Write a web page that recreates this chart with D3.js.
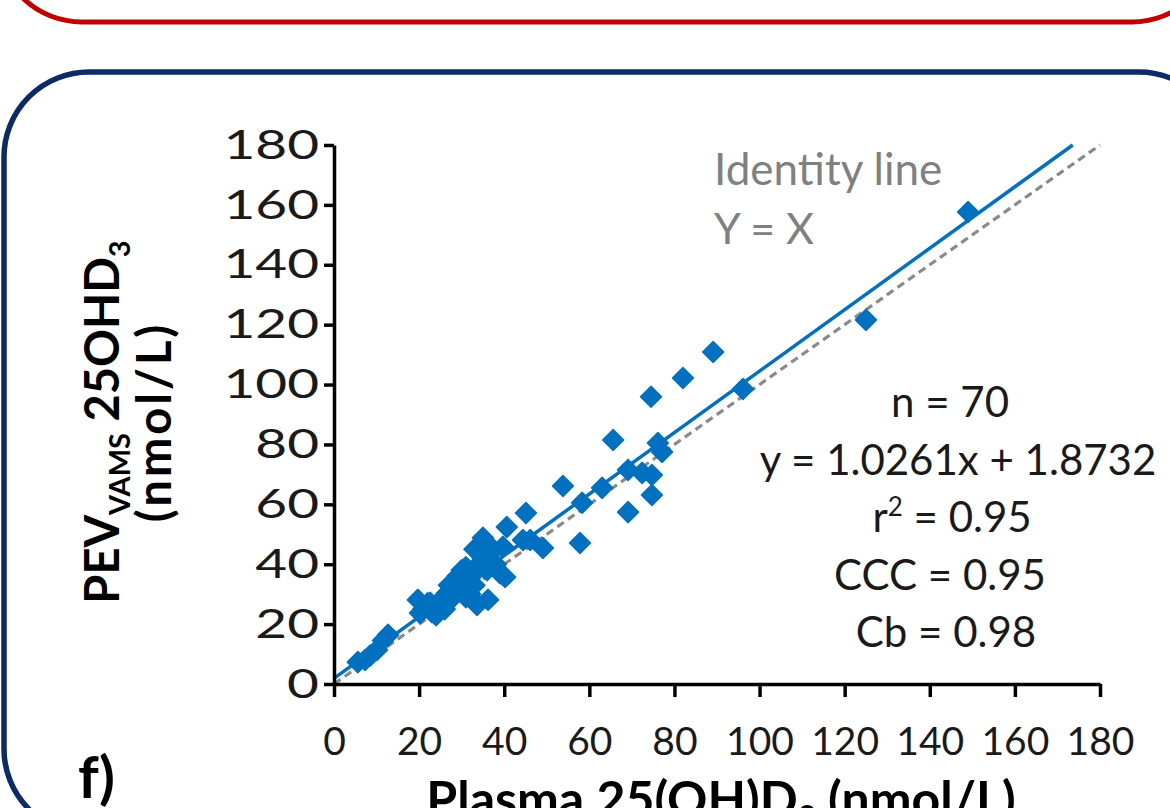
<!DOCTYPE html>
<html>
<head>
<meta charset="utf-8">
<script src="https://cdn.jsdelivr.net/npm/d3@7"></script>
<style>
  html, body { margin: 0; padding: 0; background: #fff; }
  svg { display: block; font-family: Lato, "Open Sans", sans-serif; }
</style>
</head>
<body>
<svg id="chart" width="1170" height="808"></svg>
<script>
// Plasma 25(OH)D3 (x) vs PEV VAMS 25OHD3 (y), nmol/L
const plasma = [
  149.0, 125.0, 96.1, 89.1, 82.0, 74.5, 76.1, 77.1, 65.6, 69.1,
  72.4, 74.7, 74.7, 69.1, 63.0, 58.3, 53.8, 57.8, 45.1, 46.1,
  49.1, 40.6, 35.0, 44.4, 39.7, 40.2, 36.2, 33.6, 30.3, 26.6,
  22.6, 19.7, 20.2, 12.7, 10.1, 5.6, 7.3,
  21, 22, 23, 24, 25, 26, 24, 27, 28, 29,
  30, 31, 32, 30, 31, 33, 34, 35, 28, 26,
  27, 29, 33, 32, 36, 37, 38, 39, 36, 33,
  8.5, 31, 11.5
];
const vams = [
  157.6, 121.6, 98.5, 110.9, 102.2, 95.9, 80.5, 77.5, 81.5, 71.5,
  70.5, 69.8, 63.1, 57.4, 65.5, 60.5, 66.1, 47.1, 57.1, 48.1,
  45.4, 52.4, 48.8, 48.1, 45.8, 35.7, 28.1, 26.4, 34.7, 30.4,
  27.1, 28.1, 23.7, 16.4, 11.4, 7.3, 8.0,
  25, 27, 24, 26, 28, 27, 23, 30, 32, 31,
  33, 35, 36, 38, 39, 37, 40, 42, 29, 25,
  33, 36, 33, 30, 38, 44, 40, 37, 47, 45,
  9.5, 29, 14.5
];
const points = plasma.map((p, i) => ({ x: p, y: vams[i] }));

const tickValues = [0, 20, 40, 60, 80, 100, 120, 140, 160, 180];
const slope = 1.0261;
const intercept = 1.8732;
const statLines = ["n = 70", "y = 1.0261x + 1.8732", "r² = 0.95", "CCC = 0.95", "Cb = 0.98"];

const svg = d3.select("#chart");
const blue = "#0070C0";

// panel frames
svg.append("rect")
  .attr("x", -3).attr("y", -400).attr("width", 1220).attr("height", 422)
  .attr("rx", 85).attr("ry", 85)
  .attr("fill", "none").attr("stroke", "#C00000").attr("stroke-width", 5);
svg.append("rect")
  .attr("x", 4).attr("y", 72).attr("width", 1220).attr("height", 762)
  .attr("rx", 85).attr("ry", 85)
  .attr("fill", "none").attr("stroke", "#0B2A66").attr("stroke-width", 5.5);

const x = d3.scaleLinear().domain([0, 180]).range([334, 1100]);
const y = d3.scaleLinear().domain([0, 180]).range([684, 145]);

// identity line y = x
svg.append("line")
  .attr("x1", x(0)).attr("y1", y(0)).attr("x2", x(180)).attr("y2", y(180))
  .attr("stroke", "#8a8a8a").attr("stroke-width", 3.2)
  .attr("stroke-dasharray", "8,5");

// markers
const diamond = d3.symbol().type(d3.symbolSquare).size(220);
svg.append("g").selectAll("path").data(points).join("path")
  .attr("d", diamond)
  .attr("transform", d => `translate(${x(d.x)},${y(d.y)}) rotate(45)`)
  .attr("fill", blue).attr("stroke", blue).attr("stroke-width", 1.5)
  .attr("stroke-linejoin", "round");

// fitted regression line
const xEnd = (180 - intercept) / slope;
svg.append("line")
  .attr("x1", x(0)).attr("y1", y(intercept))
  .attr("x2", x(xEnd)).attr("y2", y(slope * xEnd + intercept))
  .attr("stroke", blue).attr("stroke-width", 3.5);

// axes
const yAxis = d3.axisLeft(y).tickValues(tickValues).tickSize(10).tickSizeOuter(0).tickPadding(6);
const xAxis = d3.axisBottom(x).tickValues(tickValues).tickSize(13).tickSizeOuter(0).tickPadding(30);

const gy = svg.append("g").attr("transform", `translate(${x(0)},0)`).call(yAxis);
const gx = svg.append("g").attr("transform", `translate(0,${y(0)})`).call(xAxis);
[gx, gy].forEach(g => {
  g.select(".domain").attr("stroke", "#000").attr("stroke-width", 3.5);
  g.selectAll(".tick line").attr("stroke", "#000").attr("stroke-width", 3.5);
  g.selectAll(".tick text").attr("fill", "#1a1a1a")
    .style("font-family", "Lato, sans-serif").style("font-size", "39px");
});
// vertical-axis labels are set wider and a little larger
gy.selectAll(".tick text").style("font-size", "41px")
  .attr("x", 0).attr("transform", "translate(-15,0) scale(1.34,1)");

// axis titles
const xt = svg.append("text")
  .attr("x", 721).attr("y", 817).attr("text-anchor", "middle")
  .style("font-size", "50px").style("font-weight", "bold").attr("fill", "#000");
xt.append("tspan").text("Plasma 25(OH)D");
xt.append("tspan").text("3").style("font-size", "31px").attr("dy", 10);
xt.append("tspan").text(" (nmol/L)").attr("dy", -10);

const yt = svg.append("g").attr("transform", "translate(119,422) rotate(-90)");
const yt1 = yt.append("text").attr("text-anchor", "middle")
  .style("font-size", "47px").style("font-weight", "bold").attr("fill", "#000");
yt1.append("tspan").text("PEV");
yt1.append("tspan").text("VAMS").style("font-size", "29px").attr("dy", 11);
yt1.append("tspan").text(" 25OHD").attr("dy", -11);
yt1.append("tspan").text("3").style("font-size", "29px").attr("dy", 11);
yt.append("text").attr("text-anchor", "middle").attr("y", 52)
  .style("font-size", "47px").style("font-weight", "bold").attr("fill", "#000")
  .style("letter-spacing", "3px")
  .text("(nmol/L)");

// identity label
svg.append("text").attr("x", 714).attr("y", 185)
  .style("font-size", "44px").attr("fill", "#808080").text("Identity line");
svg.append("text").attr("x", 714).attr("y", 244)
  .style("font-size", "43px").attr("fill", "#808080").text("Y = X");

// statistics block
const statX = [950, 958, 952, 940, 946];
statLines.forEach((s, i) => {
  const t = svg.append("text")
    .attr("x", statX[i]).attr("y", 417 + i * 57.5)
    .attr("text-anchor", "middle")
    .style("font-size", "42px").attr("fill", "#1a1a1a");
  if (s.startsWith("r²")) {
    t.append("tspan").text("r");
    t.append("tspan").text("2").style("font-size", "26px").attr("dy", -16);
    t.append("tspan").text(" = 0.95").attr("dy", 16);
  } else {
    t.text(s);
  }
});

// panel letter
svg.append("text").attr("x", 78).attr("y", 798)
  .style("font-size", "58px").style("font-weight", "bold").attr("fill", "#000")
  .text("f)");
</script>
</body>
</html>
